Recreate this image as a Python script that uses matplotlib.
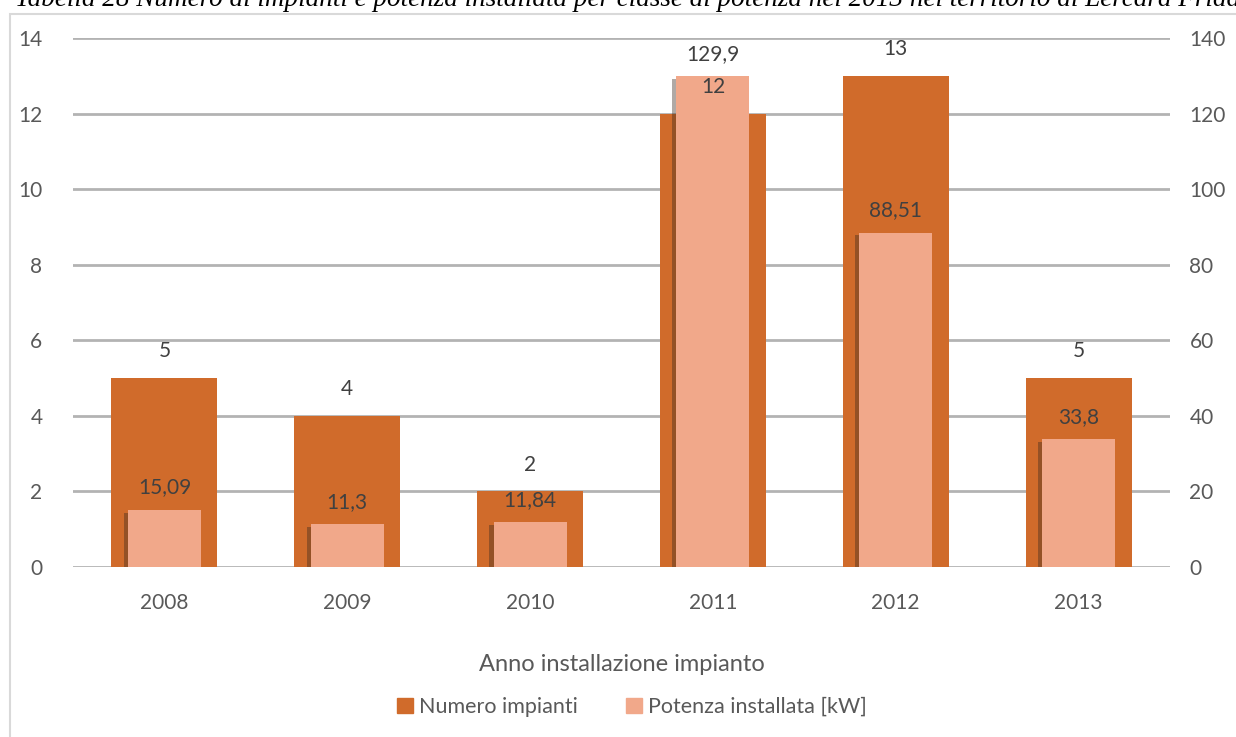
import matplotlib
matplotlib.use("Agg")
import matplotlib.pyplot as plt
import matplotlib.patheffects as pe
from matplotlib.patches import Rectangle, Patch
import numpy as np

plt.rcParams['font.family'] = ['Lato', 'DejaVu Sans']

# --- data ---------------------------------------------------------------------
anni = ['2008', '2009', '2010', '2011', '2012', '2013']
numero_impianti = [5, 4, 2, 12, 13, 5]
potenza_kw = [15.09, 11.3, 11.84, 129.9, 88.51, 33.8]
etichette_potenza = ['15,09', '11,3', '11,84', '129,9', '88,51', '33,8']

DARK = '#D06B2B'
LIGHT = '#F1A88A'
GRID = '#B3B3B3'
TXT = '#404040'
TICK = '#595959'

fig = plt.figure(figsize=(12.36, 7.37), dpi=100)

# caption of the table, clipped at the top edge of the page
fig.text(0.012, 1.0, 'Tabella 28 Numero di impianti e potenza installata per classe di potenza '
         'nel 2013 nel territorio di Lercara Friddi',
         family='Liberation Serif', style='italic', fontsize=19.5, color='black',
         ha='left', va='center')

# chart area border
fig.patches.append(Rectangle((10 / 1236, -0.05), 1.1, 1 - 14 / 737 + 0.05,
                             transform=fig.transFigure, fill=False,
                             edgecolor='#D9D9D9', linewidth=1.5))

ax = fig.add_axes([73 / 1236, 1 - 567 / 737, (1170 - 73) / 1236, (567 - 38) / 737])
ax2 = ax.twinx()

x = np.arange(len(anni))
ax.bar(x, numero_impianti, width=0.58, color=DARK, zorder=2)
b2 = ax2.bar(x, potenza_kw, width=0.40, color=LIGHT, zorder=3)
for r in b2:
    r.set_path_effects([pe.SimplePatchShadow(offset=(-3, -2), shadow_rgbFace='#3a2a20',
                                             alpha=0.4), pe.Normal()])

ax.set_ylim(0, 14)
ax2.set_ylim(0, 140)
ax.set_xlim(-0.5, len(anni) - 0.5)
ax.set_yticks(range(0, 15, 2))
ax2.set_yticks(range(0, 141, 20))
ax.set_xticks(x)
ax.set_xticklabels(anni)

ax.grid(axis='y', color=GRID, linewidth=2, zorder=0)
ax.set_axisbelow(True)
for a in (ax, ax2):
    for s in a.spines.values():
        s.set_visible(False)
    a.tick_params(length=0, labelsize=15, labelcolor=TICK)
ax.tick_params(axis='y', pad=22)
ax2.tick_params(axis='y', pad=14)
ax.tick_params(axis='x', pad=19)

# value labels (all drawn on the top axes so none is hidden behind a bar)
for xi, v in zip(x, numero_impianti):
    ax2.annotate(str(v), (xi, v), xycoords=ax.transData, xytext=(0, 12),
                 textcoords='offset points', ha='center', va='bottom',
                 fontsize=15, color=TXT, zorder=5)
for xi, v, lab in zip(x, potenza_kw, etichette_potenza):
    ax2.annotate(lab, (xi, v), xytext=(0, 9), textcoords='offset points',
                 ha='center', va='bottom', fontsize=15, color=TXT, zorder=5)

ax.set_xlabel('Anno installazione impianto', fontsize=17, color=TICK, labelpad=29)

handles = [Patch(color=DARK), Patch(color=LIGHT)]
leg = fig.legend(handles, ['Numero impianti', 'Potenza installata [kW]'], loc='center',
                 bbox_to_anchor=(632 / 1236, 1 - 707 / 737), ncol=2, frameon=False,
                 fontsize=15.5, handlelength=0.75, handleheight=0.75,
                 columnspacing=2.2, handletextpad=0.3)
for t in leg.get_texts():
    t.set_color(TICK)

fig.savefig('out.png', dpi=100)
